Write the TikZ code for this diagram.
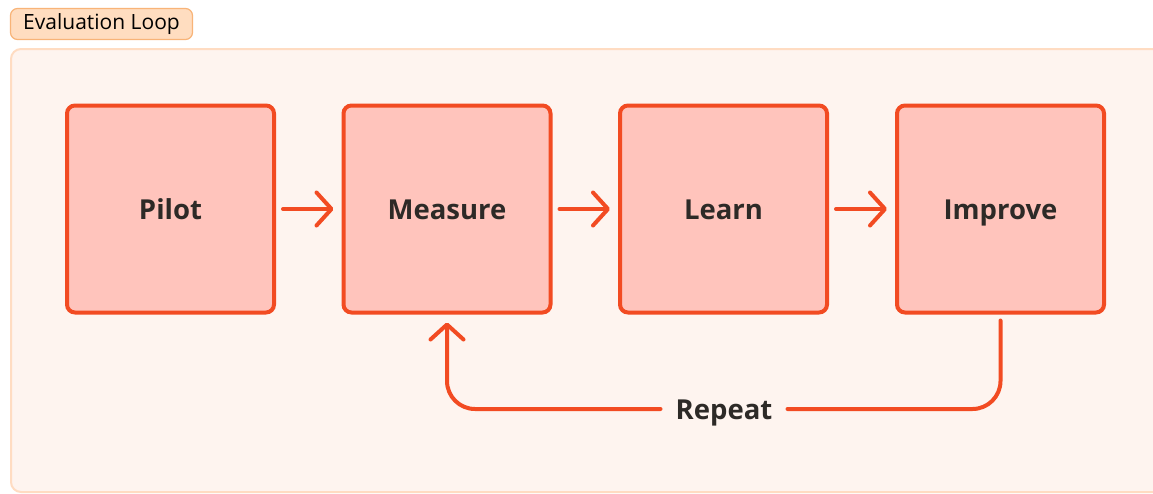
\documentclass[tikz,border=0pt]{standalone}
\usepackage{fontspec}
\setmainfont{Open Sans}
\usetikzlibrary{arrows.meta}
\definecolor{panelfill}{HTML}{FEF4EF}
\definecolor{paneledge}{HTML}{FFDCC2}
\definecolor{tagfill}{HTML}{FFDDC0}
\definecolor{tagedge}{HTML}{F8B478}
\definecolor{stepfill}{HTML}{FFC4BC}
\definecolor{stepedge}{HTML}{F24B22}
\definecolor{ink}{HTML}{2D2A27}
\tikzset{
  barb/.tip={Straight Barb[length=15pt, width=33pt, line width=4pt, round]},
  labelfont/.style={font=\fontsize{27.5}{32}\selectfont\bfseries, text=ink},
  stepbox/.style={draw=stepedge, line width=4pt, fill=stepfill, rounded corners=8pt,
    minimum width=207pt, minimum height=207pt, inner sep=0pt,
    text height=20pt, text depth=0pt, labelfont},
  flow/.style={draw=stepedge, line width=4pt, line cap=round, -barb},
  loopline/.style={draw=stepedge, line width=4pt, line cap=round, rounded corners=28pt},
}
\begin{document}
\begin{tikzpicture}[x=1pt, y=-1pt]
  \useasboundingbox (0,0) rectangle (1153,493);
  \fill[white] (0,0) rectangle (1153,493);
  % surrounding panel, running off the right and bottom edges
  \draw[draw=paneledge, line width=2pt, fill=panelfill, rounded corners=10pt]
    (11,49) rectangle (1175,492);
  % title tag
  \node[draw=tagedge, line width=1.2pt, fill=tagfill, rounded corners=7pt,
    minimum width=182pt, minimum height=31pt, inner sep=0pt, text=black,
    font=\fontsize{21}{24}\selectfont] (tag) at (101.5,24) {Evaluation Loop};
  % process steps
  \node[stepbox] (pilot)   at (170.5,209) {Pilot};
  \node[stepbox] (measure) at (447,209) {Measure};
  \node[stepbox] (learn)   at (723.5,209) {Learn};
  \node[stepbox] (improve) at (1000.5,209) {Improve};
  % forward arrows
  \draw[flow] ([xshift=7pt]pilot.east) -- ([xshift=-8pt]measure.west);
  \draw[flow] ([xshift=7pt]measure.east) -- ([xshift=-8pt]learn.west);
  \draw[flow] ([xshift=7pt]learn.east) -- ([xshift=-8pt]improve.west);
  % feedback loop
  \node[labelfont, inner sep=0pt, text height=20pt, text depth=0pt] (repeat) at (724,409) {Repeat};
  \coordinate (loopR) at ([yshift=-6pt]improve.south);
  \coordinate (loopL) at ([yshift=-8pt]measure.south);
  \draw[loopline] (loopR) -- (loopR |- repeat) -- ([xshift=15pt]repeat.east);
  \draw[loopline, -barb]
    ([xshift=-15pt]repeat.west) -- (loopL |- repeat) -- (loopL);
\end{tikzpicture}
\end{document}
